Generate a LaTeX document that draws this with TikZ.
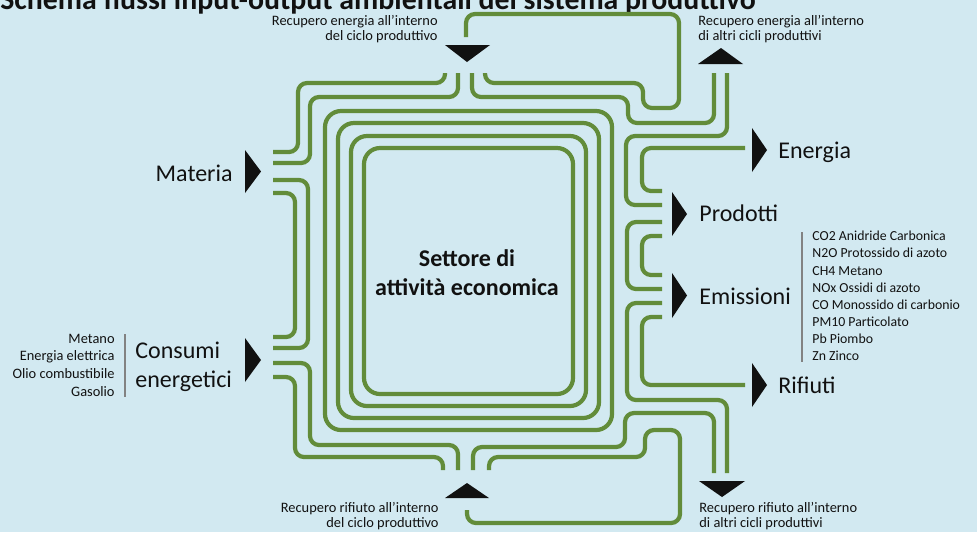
\documentclass[tikz,border=0pt]{standalone}
\usepackage{fontspec}
\setmainfont{Carlito}
\definecolor{wiregreen}{RGB}{98,140,58}
\definecolor{sky}{RGB}{210,233,241}
\definecolor{barcol}{RGB}{130,130,130}
\definecolor{ink}{RGB}{17,17,17}

\begin{document}
\begin{tikzpicture}[x=0.5pt,y=-0.5pt,
	wire/.style={draw=wiregreen,line width=2.1pt,rounded corners=4.5pt},
	ring/.style={draw=wiregreen,line width=2.1pt,rounded corners=8pt},
	tri/.style={fill=ink},
	lbl/.style={inner sep=0,text=ink},
	big/.style={lbl,font=\fontsize{12}{14}\selectfont},
	small/.style={lbl,font=\fontsize{7.2}{8}\selectfont},
	tiny/.style={lbl,font=\fontsize{6.9}{8}\selectfont}]
	\fill[sky] (0,0) rectangle (977,532);
	\useasboundingbox (0,0) rectangle (977,532);

	\node[lbl,anchor=base west,font=\bfseries\fontsize{14.9}{16}\selectfont] at (0,9) (titolo) {Schema flussi input-output ambientali del sistema produttivo};

	\draw[ring] (364,148) rectangle (573,394);
	\draw[ring] (351,136) rectangle (586,406);
	\draw[ring] (338,123) rectangle (599,418);
	\draw[ring] (325,111) rectangle (612,430);

	\draw[wire] (466,37) -- (466,14) -- (679,14) -- (679,108) -- (643,108) -- (643,83) -- (485,83) -- (485,73);
	\draw[wire] (445,73) -- (445,83) -- (298,83) -- (298,152) -- (273,152);
	\draw[wire] (458,73) -- (458,97) -- (310,97) -- (310,163) -- (273,163);
	\draw[wire] (472,73) -- (472,97) -- (628,97) -- (628,123) -- (714,123) -- (714,73);
	\draw[wire] (727,73) -- (727,136) -- (626,136) -- (626,205) -- (662,205);
	\draw[wire] (745,148) -- (642,148) -- (642,191) -- (662,191);
	\draw[wire] (662,222) -- (627,222) -- (627,289) -- (662,289);
	\draw[wire] (662,236) -- (642,236) -- (642,275) -- (662,275);
	\draw[wire] (662,303) -- (627,303) -- (627,400) -- (727,400) -- (727,473);
	\draw[wire] (662,317) -- (642,317) -- (642,385) -- (745,385);
	\draw[wire] (714,473) -- (714,413) -- (625,413) -- (625,447) -- (473,447) -- (473,470);
	\draw[wire] (489,470) -- (489,457) -- (645,457) -- (645,430) -- (680,430) -- (680,523) -- (467,523) -- (467,510);
	\draw[wire] (443,470) -- (443,457) -- (295,457) -- (295,377) -- (273,377);
	\draw[wire] (458,470) -- (458,445) -- (310,445) -- (310,363) -- (273,363);
	\draw[wire] (273,180) -- (308,180) -- (308,348) -- (273,348);
	\draw[wire] (273,193) -- (295,193) -- (295,337) -- (273,337);

	\fill[tri] (245,150) -- (261,171.5) -- (245,193) -- cycle;
	\fill[tri] (245,338) -- (261,360) -- (245,382) -- cycle;
	\fill[tri] (672,192) -- (687,214) -- (672,236) -- cycle;
	\fill[tri] (672,273) -- (687,295.5) -- (672,318) -- cycle;
	\fill[tri] (752,128) -- (767,150) -- (752,172) -- cycle;
	\fill[tri] (752,363) -- (767,385) -- (752,407) -- cycle;
	\fill[tri] (445,45) -- (490,45) -- (467,62) -- cycle;
	\fill[tri] (698,64) -- (743,64) -- (721,48) -- cycle;
	\fill[tri] (445,498) -- (489,498) -- (467,483) -- cycle;
	\fill[tri] (699,481) -- (745,481) -- (722,497) -- cycle;

	\node[big,font=\bfseries\fontsize{12}{14}\selectfont,anchor=base] at (467,266) (settore) {Settore di};
	\node[big,font=\bfseries\fontsize{12}{14}\selectfont,anchor=base] at (467,295) (attivita) {attività economica};

	\node[big,anchor=base east] at (233,181.5) (materia) {Materia};
	\node[big,anchor=base west] at (135,358) (consumi) {Consumi};
	\node[big,anchor=base west] at (135,387) (energetici) {energetici};
	\node[small,anchor=base east] at (115,343) (metano) {Metano};
	\node[small,anchor=base east] at (115,360.7) (elettrica) {Energia elettrica};
	\node[small,anchor=base east] at (115,378.3) (olio) {Olio combustibile};
	\node[small,anchor=base east] at (115,396) (gasolio) {Gasolio};
	\draw[barcol,line width=0.6pt] (125,334) -- (125,397);

	\node[big,anchor=base west] at (778,158) (energia) {Energia};
	\node[big,anchor=base west] at (699,221.5) (prodotti) {Prodotti};
	\node[big,anchor=base west] at (699,304) (emissioni) {Emissioni};
	\node[big,anchor=base west] at (778,393) (rifiuti) {Rifiuti};
	\draw[barcol,line width=0.6pt] (802,232) -- (802,362);
	\node[tiny,anchor=base west] at (812,240.7) (co2) {CO2 Anidride Carbonica};
	\node[tiny,anchor=base west] at (812,257.8) (n2o) {N2O Protossido di azoto};
	\node[tiny,anchor=base west] at (812,275) (ch4) {CH4 Metano};
	\node[tiny,anchor=base west] at (812,292.1) (nox) {NOx Ossidi di azoto};
	\node[tiny,anchor=base west] at (812,309.3) (co) {CO Monossido di carbonio};
	\node[tiny,anchor=base west] at (812,326.4) (pm10) {PM10 Particolato};
	\node[tiny,anchor=base west] at (812,343.6) (pb) {Pb Piombo};
	\node[tiny,anchor=base west] at (812,360.7) (zn) {Zn Zinco};

	\node[small,anchor=base east] at (438,25) (recEnA) {Recupero energia all'interno};
	\node[small,anchor=base east] at (438,40) (recEnB) {del ciclo produttivo};
	\node[small,anchor=base west] at (698,25) (altEnA) {Recupero energia all'interno};
	\node[small,anchor=base west] at (698,40) (altEnB) {di altri cicli produttivi};
	\node[small,anchor=base east] at (439,512.5) (recRiA) {Recupero rifiuto all'interno};
	\node[small,anchor=base east] at (439,527.5) (recRiB) {del ciclo produttivo};
	\node[small,anchor=base west] at (699,512.5) (altRiA) {Recupero rifiuto all'interno};
	\node[small,anchor=base west] at (699,527.5) (altRiB) {di altri cicli produttivi};
\end{tikzpicture}
\end{document}
